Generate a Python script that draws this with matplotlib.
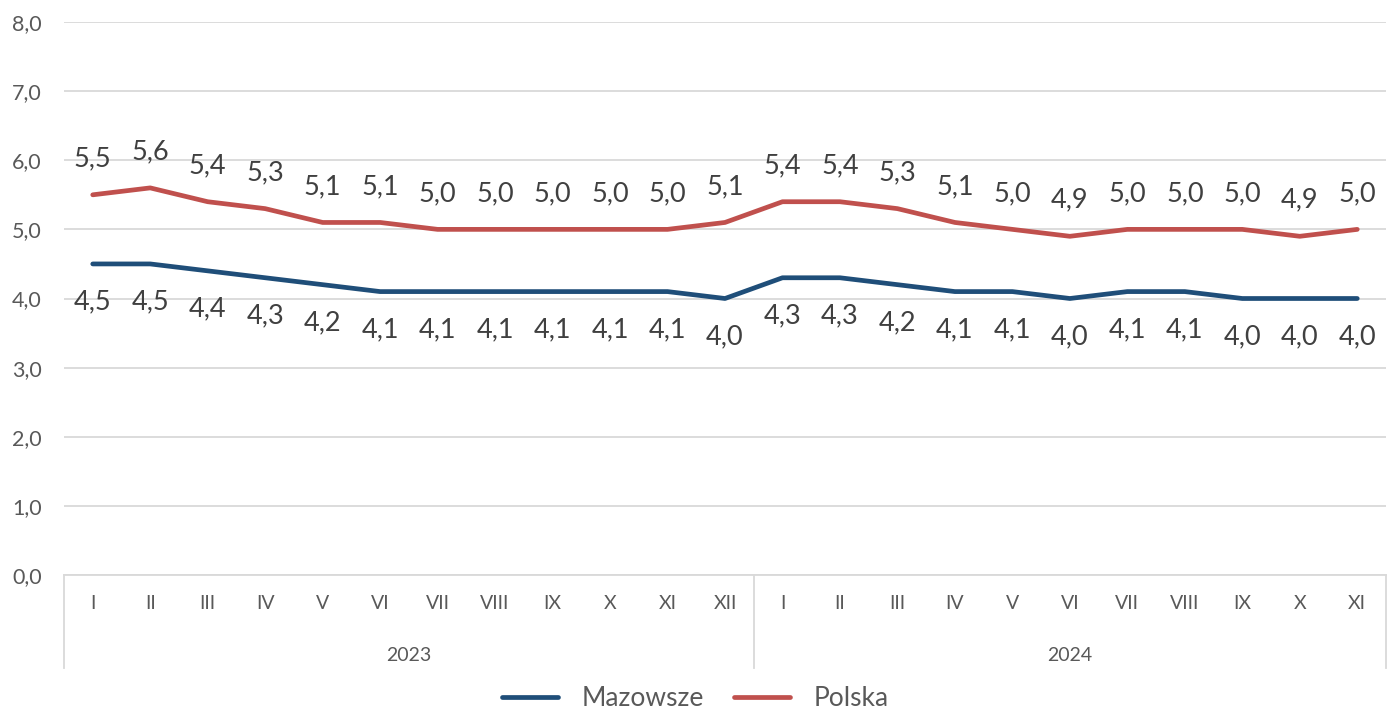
import matplotlib
matplotlib.use('Agg')
import matplotlib.pyplot as plt
import matplotlib.transforms as mtransforms

plt.rcParams['font.family'] = ['Lato', 'DejaVu Sans']

# Dane
months = ['I', 'II', 'III', 'IV', 'V', 'VI', 'VII', 'VIII', 'IX', 'X', 'XI', 'XII',
          'I', 'II', 'III', 'IV', 'V', 'VI', 'VII', 'VIII', 'IX', 'X', 'XI']
years = ['2023', '2024']
year_counts = [12, 11]
mazowsze = [4.5, 4.5, 4.4, 4.3, 4.2, 4.1, 4.1, 4.1, 4.1, 4.1, 4.1, 4.0,
            4.3, 4.3, 4.2, 4.1, 4.1, 4.0, 4.1, 4.1, 4.0, 4.0, 4.0]
polska = [5.5, 5.6, 5.4, 5.3, 5.1, 5.1, 5.0, 5.0, 5.0, 5.0, 5.0, 5.1,
          5.4, 5.4, 5.3, 5.1, 5.0, 4.9, 5.0, 5.0, 5.0, 4.9, 5.0]
y_ticks = [0, 1, 2, 3, 4, 5, 6, 7, 8]

BLUE = '#1F4E79'
RED = '#C0504D'
TXT = '#595959'
GRID = '#D9D9D9'


def fmt(v):
    return f'{v:.1f}'.replace('.', ',')


fig = plt.figure(figsize=(13.91, 7.10), dpi=100)
ax = fig.add_axes([64 / 1391, 1 - 575 / 710, (1386 - 64) / 1391, 553 / 710])

x = list(range(len(months)))
ax.plot(x, mazowsze, color=BLUE, lw=3.4, solid_capstyle='round', label='Mazowsze', zorder=3)
ax.plot(x, polska, color=RED, lw=3.4, solid_capstyle='round', label='Polska', zorder=3)

for xi, v in zip(x, polska):
    ax.annotate(fmt(v), (xi, v), xytext=(0, 36), textcoords='offset pixels',
                ha='center', va='center', fontsize=19.5, color='#404040')
for xi, v in zip(x, mazowsze):
    ax.annotate(fmt(v), (xi, v), xytext=(0, -38), textcoords='offset pixels',
                ha='center', va='center', fontsize=19.5, color='#404040')

ax.set_xlim(-0.5, len(months) - 0.5)
ax.set_ylim(0, 8)
ax.set_yticks(y_ticks)
ax.set_yticklabels([fmt(t) for t in y_ticks], fontsize=15.5, color=TXT)
ax.tick_params(axis='y', length=0, pad=16)
ax.set_xticks([])
ax.grid(axis='y', color=GRID, lw=1.3)
ax.set_axisbelow(True)
for s in ['top', 'right', 'left']:
    ax.spines[s].set_visible(False)
ax.spines['bottom'].set_color(GRID)
ax.spines['bottom'].set_linewidth(1.3)

# Oś kategorii (miesiące i lata)
trans = mtransforms.blended_transform_factory(ax.transData, ax.transAxes)
for xi, m in zip(x, months):
    ax.text(xi, -0.052, m, transform=trans, ha='center', va='center',
            fontsize=14, color=TXT)
start = -0.5
bounds = [start]
for yr, n in zip(years, year_counts):
    end = start + n
    ax.text((start + end) / 2, -0.145, yr, transform=trans, ha='center', va='center',
            fontsize=14, color=TXT)
    bounds.append(end)
    start = end
for b in bounds:
    ax.plot([b, b], [0, -0.168], transform=trans, color=GRID, lw=1.3, clip_on=False)

fig.legend(loc='center', bbox_to_anchor=(0.5, 1 - 699 / 710), ncol=2, frameon=False,
           fontsize=19, handlelength=2.1, columnspacing=1.15, handletextpad=0.9,
           labelcolor=TXT)

fig.savefig('out.png', dpi=100)
